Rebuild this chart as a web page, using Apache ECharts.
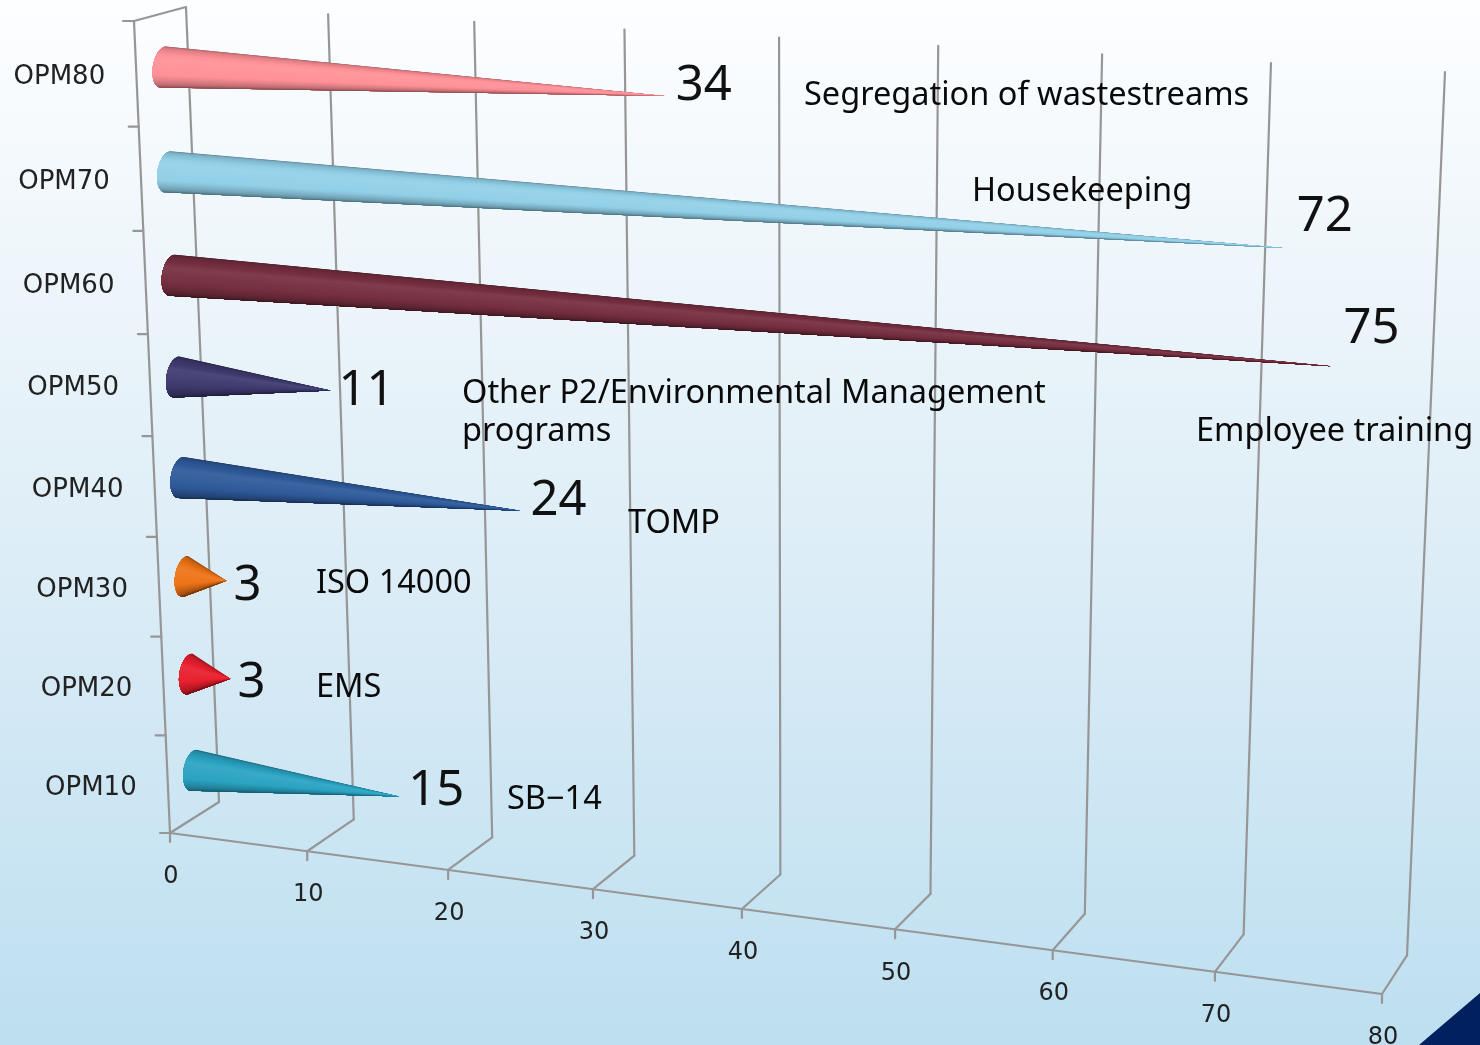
<!DOCTYPE html>
<html>
<head>
<meta charset="utf-8">
<style>html,body{margin:0;padding:0;background:#fff}#chart{width:1480px;height:1045px}</style>
<script src="https://cdn.jsdelivr.net/npm/echarts@6/dist/echarts.min.js"></script>
</head>
<body>
<div id="chart"></div>
<script>
// Chart content
var categories = ['OPM10', 'OPM20', 'OPM30', 'OPM40', 'OPM50', 'OPM60', 'OPM70', 'OPM80'];
var counts = [15, 3, 3, 24, 11, 75, 72, 34];
var valueTicks = [0, 10, 20, 30, 40, 50, 60, 70, 80];
var programmes = ['SB\u221214', 'EMS', 'ISO 14000', 'TOMP',
  'Other P2/Environmental Management\nprograms', 'Employee training', 'Housekeeping',
  'Segregation of wastestreams'];
var coneColours = ['#2ba3c2', '#e8202f', '#ee7418', '#2f5a9a', '#3f3b70', '#752f40', '#92d0e8', '#ff9198'];

// Screen placement of the projected box and its annotations
var FLOOR = [[170, 833], [1382, 994], [1407, 955.45], [219, 802]];
var BACK = [[219, 802], [1407, 955], [1445, 72], [186, 7]];
var SIDE = [[170, 833], [219, 802], [186, 7], [134, 21]];
var MID = [[196, 818], [1392, 976], [1431, 81], [161, 14]];
var FLAT = {left: 100, top: 100, width: 800, height: 800};
var valueOffsets = [[37, -5], [21, 4], [21, 5], [38, -10], [36, 0], [40, -37], [41, -31.5], [39, -10]];
var noteAnchors = [[507, 800], [316, 688], [316, 584], [628, 524], [462, 413], [1196, 432], [972, 192], [804, 96]];
var LINE = '#969696';

// Homography taking the unit square onto a screen quadrilateral
function projector(q) {
  var x0 = q[0][0], y0 = q[0][1], x1 = q[1][0], y1 = q[1][1], x2 = q[2][0], y2 = q[2][1], x3 = q[3][0], y3 = q[3][1];
  var sx = x0 - x1 + x2 - x3, sy = y0 - y1 + y2 - y3;
  var dx1 = x1 - x2, dx2 = x3 - x2, dy1 = y1 - y2, dy2 = y3 - y2;
  var den = dx1 * dy2 - dx2 * dy1;
  var g = (sx * dy2 - dx2 * sy) / den, h = (dx1 * sy - sx * dy1) / den;
  var a = x1 - x0 + g * x1, b = x3 - x0 + h * x3, d = y1 - y0 + g * y1, e = y3 - y0 + h * y3;
  return function (s, t) {
    var w = g * s + h * t + 1;
    return [(a * s + b * t + x0) / w, (d * s + e * t + y0) / w];
  };
}
var floorAt = projector(FLOOR), backAt = projector(BACK), sideAt = projector(SIDE), midAt = projector(MID);

function unitX(api, v) { return (api.coord([v, 0])[0] - FLAT.left) / FLAT.width; }
function unitY(api, i) { return 1 - (api.coord([0, i])[1] - FLAT.top) / FLAT.height; }

function line(a, b) {
  return {type: 'line', shape: {x1: a[0], y1: a[1], x2: b[0], y2: b[1]},
    style: {stroke: LINE, lineWidth: 2.2, lineCap: 'round'}};
}
function text(str, x, y, font, align, fill) {
  return {type: 'text', x: x, y: y,
    style: {text: str, x: 0, y: 0, font: font, fill: fill, align: align, verticalAlign: 'middle', lineHeight: 38}};
}

function shade(hex, k) {
  var n = parseInt(hex.slice(1), 16);
  var c = [n >> 16, (n >> 8) & 255, n & 255].map(function (v) {
    var out = k <= 1 ? v * k : v + (255 - v) * (k - 1);
    return Math.round(Math.max(0, Math.min(255, out)));
  });
  return 'rgb(' + c.join(',') + ')';
}
var SHADE_STOPS = [[0, 0.6], [0.1, 0.84], [0.36, 1.07], [0.62, 1], [0.84, 0.72], [1, 0.42]];
function shadeFactor(t) {
  for (var i = 1; i < SHADE_STOPS.length; i++) {
    if (t <= SHADE_STOPS[i][0]) {
      var a = SHADE_STOPS[i - 1], b = SHADE_STOPS[i];
      return a[1] + (b[1] - a[1]) * (t - a[0]) / (b[0] - a[0]);
    }
  }
  return 0.42;
}

// Gridlines folding from the floor up the back wall, with value tick labels
function renderValueTick(params, api) {
  var v = api.value(0), s = unitX(api, v);
  var f = floorAt(s, 0), b = floorAt(s, 1), t = backAt(s, 1);
  return {type: 'group', children: [
    line(f, b), line(b, t),
    line(f, [f[0], f[1] + 9]),
    text(String(v), f[0] + 1, f[1] + 44, '24px "DejaVu Sans"', 'center', '#222')
  ]};
}

// Left edge ticks and category names
function renderCategoryTick(params, api) {
  var i = api.value(1), h = unitY(api, i);
  var band = api.size([0, 1])[1] / FLAT.height;
  var low = sideAt(0, h - band / 2), mid = sideAt(0, h);
  var parts = [line(low, [low[0] - 10, low[1]])];
  if (i < categories.length) {
    parts.push(text(categories[i], mid[0] - 77, mid[1] + 3.5, '26px "DejaVu Sans"', 'center', '#222'));
  }
  return {type: 'group', children: parts};
}

// Outer edges of the box
function renderFrame(params, api) {
  var o = sideAt(0, 0), top = sideAt(0, 1), rear = sideAt(1, 1);
  var end = floorAt(unitX(api, valueTicks[valueTicks.length - 1]), 0);
  return {type: 'group', children: [line(o, top), line(top, rear), line(o, end),
    line(top, [top[0] - 11, top[1]])]};
}

// A cone in the mid-depth plane: overlapping shells run from the upper rim down,
// each one covering what is left of the surface, so the shading has no seams
function renderCone(params, api) {
  var value = api.value(0), i = api.value(1);
  var h = unitY(api, i);
  var c = midAt(unitX(api, 0), h), tip = midAt(unitX(api, value), h);
  var shells = [], N = 40;
  function rim(k) {
    var th = Math.PI / 2 - Math.PI * k / N, sn = Math.sin(th), cs = Math.cos(th);
    return [c[0] + 2.5 * sn - 10.5 * cs, c[1] - 20.5 * sn + 0.5 * cs];
  }
  for (var k = 0; k < N; k++) {
    var pts = [tip];
    for (var m = k; m <= N; m++) { pts.push(rim(m)); }
    shells.push({type: 'polygon', shape: {points: pts},
      style: {fill: shade(coneColours[i], shadeFactor((k + 0.5) / N))}});
  }
  return {type: 'group', children: shells};
}

// Value numbers beside each tip and the programme names
function renderNotes(params, api) {
  var value = api.value(0), i = api.value(1);
  var tip = midAt(unitX(api, value), unitY(api, i));
  var off = valueOffsets[i], note = noteAnchors[i];
  return {type: 'group', children: [
    text(String(value), tip[0] + off[0], tip[1] + off[1], '49px "Noto Sans"', 'center', '#111'),
    text(programmes[i], note[0], note[1], '32.5px "Noto Sans"', 'left', '#0a0a0a')
  ]};
}

var pairs = counts.map(function (c, i) { return [c, i]; });
var tickData = valueTicks.map(function (v) { return [v, 0]; });
var catData = categories.map(function (c, i) { return [0, i]; }).concat([[0, categories.length]]);

var chart = echarts.init(document.getElementById('chart'), null, {renderer: 'canvas'});
chart.setOption({
  animation: false,
  backgroundColor: {type: 'linear', x: 0, y: 0, x2: 0, y2: 1,
    colorStops: [{offset: 0, color: '#fdfeff'}, {offset: 0.5, color: '#dfeef7'}, {offset: 1, color: '#bddff0'}]},
  grid: FLAT,
  xAxis: {type: 'value', min: 0, max: 80, interval: 10, show: false},
  yAxis: {type: 'category', data: categories, show: false},
  graphic: [
    {type: 'polygon', silent: true, z: 10, shape: {points: [[1419, 1045], [1480, 993], [1480, 1045]]}, style: {fill: '#00205f'}}
  ],
  series: [
    {type: 'custom', name: 'values', coordinateSystem: 'cartesian2d', clip: false, z: 1, silent: true,
      data: tickData, encode: {x: 0, y: 1}, renderItem: renderValueTick},
    {type: 'custom', name: 'categories', coordinateSystem: 'cartesian2d', clip: false, z: 1, silent: true,
      data: catData, encode: {x: 0, y: 1}, renderItem: renderCategoryTick},
    {type: 'custom', name: 'frame', coordinateSystem: 'cartesian2d', clip: false, z: 1, silent: true,
      data: [[0, 0]], encode: {x: 0, y: 1}, renderItem: renderFrame},
    {type: 'custom', name: 'cones', coordinateSystem: 'cartesian2d', clip: false, z: 3, silent: true,
      data: pairs, encode: {x: 0, y: 1}, renderItem: renderCone},
    {type: 'custom', name: 'notes', coordinateSystem: 'cartesian2d', clip: false, z: 4, silent: true,
      data: pairs, encode: {x: 0, y: 1}, renderItem: renderNotes}
  ]
});
</script>
</body>
</html>
